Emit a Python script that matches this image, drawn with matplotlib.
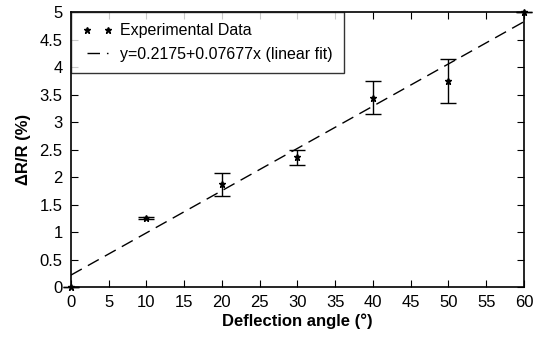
import numpy as np
import matplotlib.pyplot as plt

plt.rcParams['font.family'] = ['Liberation Sans', 'DejaVu Sans']

angle = [0, 10, 20, 30, 40, 50, 60]
dr = [0.0, 1.25, 1.87, 2.36, 3.44, 3.75, 5.0]
err = [0.0, 0.02, 0.21, 0.14, 0.30, 0.40, 0.0]
a, b = 0.2175, 0.07677

fig = plt.figure(figsize=(5.33, 3.43), dpi=100)
ax = fig.add_axes([0.133, 0.163, 0.85, 0.802])

ax.errorbar(angle, dr, yerr=err, fmt='none', ecolor='black', elinewidth=1,
            capsize=5.5, capthick=1, clip_on=False)
ax.plot(angle, dr, linestyle='none', marker='*', color='black', markersize=5,
        clip_on=False, label='Experimental Data', zorder=5)
xf = np.array([0, 60])
ax.plot(xf, a + b * xf, color='black', linestyle=(0, (9, 5)), linewidth=1,
        label='y=0.2175+0.07677x (linear fit)')

ax.set_xlim(0, 60)
ax.set_ylim(0, 5)
ax.set_xticks(np.arange(0, 61, 5))
ax.set_yticks(np.arange(0, 5.01, 0.5))
ax.set_yticklabels(['0', '0.5', '1', '1.5', '2', '2.5', '3', '3.5', '4', '4.5', '5'])
ax.tick_params(direction='in', top=True, right=True, length=5, labelsize=12, pad=6)
for s in ax.spines.values():
    s.set_linewidth(1.2)

ax.set_xlabel('Deflection angle (°)', fontweight='bold', fontsize=12, labelpad=2)
ax.set_ylabel('ΔR/R (%)', fontweight='bold', fontsize=12, labelpad=6)

leg = ax.legend(loc='upper left', numpoints=2, fontsize=11.5, frameon=True, fancybox=False,
                borderaxespad=0, handlelength=1.9, handletextpad=0.5, borderpad=0.7,
                labelspacing=0.55)
leg.get_frame().set_edgecolor('black')
leg.get_frame().set_linewidth(1)

fig.savefig('out.png', dpi=100)
